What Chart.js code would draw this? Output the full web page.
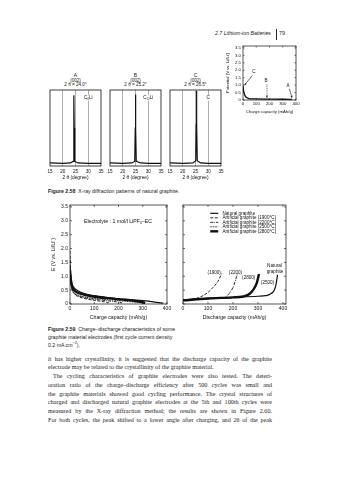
<!DOCTYPE html>
<html><head><meta charset="utf-8">
<script src="https://cdn.jsdelivr.net/npm/chart.js@4.4.1/dist/chart.umd.min.js"></script>
<style>
html,body{margin:0;padding:0;background:#fff;}
body{width:340px;height:480px;position:relative;overflow:hidden;color:#1a1a1a;font-family:'Liberation Sans',Arial,sans-serif;}
canvas{position:absolute;}
.t{position:absolute;white-space:nowrap;}
.hd{font-style:italic;font-size:5.2px;line-height:6px;}
.ph{position:absolute;text-align:center;width:50px;font-size:4.6px;line-height:5px;white-space:nowrap;}
.cap{font-size:5.2px;line-height:7.8px;left:48px;}
.bl{position:absolute;left:48px;width:224px;font-family:'Liberation Serif','Times New Roman',serif;font-size:6.1px;line-height:8.76px;text-align:justify;text-align-last:justify;white-space:normal;}
</style></head><body>
<div class="t hd" style="left:215px;top:29.5px">2.7 Lithium-ion Batteries</div>
<div style="position:absolute;left:276px;top:29px;width:0;height:11px;border-left:0.8px solid #222"></div>
<div class="t" style="left:279px;top:29.5px;font-size:5.4px;line-height:6px">79</div>

<div class="ph" style="left:50.5px;top:73px;font-size:5px">A</div>
<div class="ph" style="left:50.5px;top:77.7px">(002)</div>
<div class="ph" style="left:50.5px;top:81.7px">2 θ = 24.0°</div>
<div class="ph" style="left:110.5px;top:73px;font-size:5px">B</div>
<div class="ph" style="left:110.5px;top:77.7px">(002)</div>
<div class="ph" style="left:110.5px;top:81.7px">2 θ = 25.2°</div>
<div class="ph" style="left:170.5px;top:73px;font-size:5px">C</div>
<div class="ph" style="left:170.5px;top:77.7px">(002)</div>
<div class="ph" style="left:170.5px;top:81.7px">2 θ = 26.5°</div>

<div class="t cap" style="top:188px"><b>Figure 2.58</b>&nbsp;&nbsp;X-ray diffraction patterns of natural graphite.</div>
<div class="t cap" style="top:326px"><b>Figure 2.59</b>&nbsp;&nbsp;Charge–discharge characteristics of some<br>graphite material electrodes (first cycle current density<br>0.2 mA cm<sup style="font-size:3.8px;line-height:0">−2</sup>).</div>

<div class="bl" style="top:354.6px">it has higher crystallinity, it is suggested that the discharge capacity of the graphite</div>
<div class="bl" style="top:363.4px;text-align-last:left">electrode may be related to the crystallinity of the graphite material.</div>
<div class="bl" style="top:372.1px;text-indent:5px">The cycling characteristics of graphite electrodes were also tested. The deteri-</div>
<div class="bl" style="top:380.9px">oration ratio of the charge–discharge efficiency after 500 cycles was small and</div>
<div class="bl" style="top:389.6px">the graphite materials showed good cycling performance. The crystal structures of</div>
<div class="bl" style="top:398.4px">charged and discharged natural graphite electrodes at the 5th and 100th cycles were</div>
<div class="bl" style="top:407.2px">measured by the X-ray diffraction method; the results are shown in Figure 2.60.</div>
<div class="bl" style="top:415.9px">For both cycles, the peak shifted to a lower angle after charging, and 2θ of the peak</div>

<script>
// ================= DATA =================
// Top-right: potential profile of natural graphite during charge
const potCapacity  = [0, 2, 5, 10, 15, 20, 30, 45, 60, 100, 200, 300, 370];
const potPotential = [0.95, 0.8, 0.6, 0.42, 0.3, 0.22, 0.15, 0.1, 0.08, 0.07, 0.06, 0.05, 0.04];
const potYTicks = [0, 0.5, 1.0, 1.5, 2.0, 2.5, 3.0, 3.5];
const potXTicks = [0, 100, 200, 300, 400];

// XRD panels (2θ in degree, relative intensity)
const xrdAngleA = [15, 20, 23, 24.1, 24.3, 24.4, 24.5, 24.7, 26, 30, 35];
const xrdIntA   = [0.04, 0.035, 0.04, 0.06, 0.5, 0.93, 0.5, 0.06, 0.04, 0.035, 0.035];
const xrdAngleB = [15, 20, 23.5, 24.7, 24.9, 25.0, 25.1, 25.3, 27, 30, 35];
const xrdIntB   = [0.04, 0.035, 0.04, 0.06, 0.5, 0.94, 0.5, 0.06, 0.04, 0.035, 0.035];
const xrdAngleC = [15, 20, 24, 25.1, 25.3, 25.4, 25.5, 25.7, 27, 30, 35];
const xrdIntC   = [0.04, 0.035, 0.04, 0.07, 0.55, 0.99, 0.55, 0.07, 0.04, 0.035, 0.035];
const xrdTicks  = [15, 20, 25, 30, 35];

// Charge curves (capacity mAh/g, E V vs Li/Li+)
const chgNatX  = [0, 3, 8, 15, 25, 40, 70, 100, 150, 200, 250, 300, 350, 385];
const chgNatY  = [1.3, 0.95, 0.72, 0.6, 0.52, 0.44, 0.35, 0.3, 0.24, 0.19, 0.16, 0.12, 0.07, 0.03];
const chg1900X = [0, 2, 5, 10, 20, 40, 70, 110, 140, 160];
const chg1900Y = [1.9, 1.2, 0.75, 0.5, 0.35, 0.25, 0.18, 0.12, 0.08, 0.04];
const chg2200X = [0, 2, 6, 12, 25, 50, 100, 150, 190, 215];
const chg2200Y = [1.6, 1.05, 0.65, 0.45, 0.33, 0.25, 0.17, 0.12, 0.08, 0.04];
const chg2500X = [0, 4, 10, 20, 40, 70, 100, 150, 200, 250, 300];
const chg2500Y = [1.05, 0.7, 0.5, 0.38, 0.3, 0.24, 0.2, 0.16, 0.12, 0.08, 0.04];
const chg2800X = [0, 4, 10, 20, 40, 70, 100, 150, 200, 250, 290, 310];
const chg2800Y = [1.22, 0.85, 0.6, 0.47, 0.38, 0.31, 0.26, 0.21, 0.17, 0.13, 0.08, 0.04];

// Discharge curves
const disNatX  = [0, 100, 200, 300, 330, 350, 365, 372, 378];
const disNatY  = [0.15, 0.2, 0.24, 0.28, 0.3, 0.36, 0.5, 0.7, 1.05];
const dis1900X = [0, 20, 40, 60, 80, 100, 120, 140, 155];
const dis1900Y = [0.12, 0.15, 0.18, 0.22, 0.3, 0.42, 0.6, 0.82, 1.1];
const dis2200X = [0, 50, 100, 150, 170, 185, 200, 210, 217];
const dis2200Y = [0.12, 0.16, 0.19, 0.21, 0.25, 0.38, 0.6, 0.85, 1.08];
const dis2500X = [0, 100, 200, 250, 270, 285, 295, 300];
const dis2500Y = [0.12, 0.19, 0.23, 0.27, 0.35, 0.55, 0.8, 1.02];
const dis2800X = [0, 100, 200, 240, 260, 280, 295, 304];
const dis2800Y = [0.13, 0.2, 0.24, 0.27, 0.33, 0.5, 0.75, 1.08];

const eYTicks = [0, 0.5, 1.0, 1.5, 2.0, 2.5, 3.0, 3.5];
const capTicks = [0, 100, 200, 300, 400];
const seriesNames = ['Natural graphite', 'Artificial graphite (1900°C)', 'Artificial graphite (2200°C)', 'Artificial graphite (2500°C)', 'Artificial graphite (2800°C)'];

// ================= HELPERS =================
const FF = "'Liberation Sans', Arial, sans-serif";
const INK = '#111';
Chart.defaults.font.family = FF;
Chart.defaults.font.size = 5;
Chart.defaults.color = INK;
Chart.defaults.animation = false;
Chart.defaults.responsive = false;
Chart.defaults.devicePixelRatio = 1;
Chart.defaults.plugins.legend.display = false;
Chart.defaults.plugins.tooltip.enabled = false;
Chart.defaults.elements.point.radius = 0;

const pts = (xs, ys) => xs.map((x, i) => ({x, y: ys[i]}));
const fmt1 = v => (v === 0 ? '0' : Number(v).toFixed(1));

function place(area, pad) {
  const c = document.createElement('canvas');
  const w = area.r - area.l + pad.l + pad.r, h = area.b - area.t + pad.t + pad.b;
  c.width = w; c.height = h;
  c.style.left = (area.l - pad.l) + 'px'; c.style.top = (area.t - pad.t) + 'px';
  c.style.width = w + 'px'; c.style.height = h + 'px';
  document.body.appendChild(c);
  return c;
}
function makeChart(area, pad, cfg) {
  const c = place(area, pad);
  const o = cfg.options;
  const yShown = o.scales.y.display !== false;
  o.layout = {padding: {top: pad.t, right: pad.r, left: yShown ? 0 : pad.l, bottom: 0}};
  o.scales.x.afterFit = s => { s.height = pad.b; s.paddingLeft = 0; s.paddingRight = 0; };
  if (yShown) o.scales.y.afterFit = s => { s.width = pad.l; s.paddingTop = 0; s.paddingBottom = 0; };
  return new Chart(c, cfg);
}
function ticksFrom(list) {
  return s => { s.ticks = list.map(v => ({value: v})); };
}

const framePlugin = {
  id: 'frame',
  afterDatasetsDraw(chart, args, opts) {
    const {ctx, chartArea: a} = chart;
    ctx.save();
    ctx.strokeStyle = INK; ctx.lineWidth = opts.lw || 0.7;
    ctx.strokeRect(a.left, a.top, a.right - a.left, a.bottom - a.top);
    const len = opts.len || 1.8;
    ctx.lineWidth = 0.6;
    const L = (x1, y1, x2, y2) => { ctx.beginPath(); ctx.moveTo(x1, y1); ctx.lineTo(x2, y2); ctx.stroke(); };
    if (opts.xTicks) {
      const s = chart.scales.x;
      s.ticks.forEach(t => { const p = s.getPixelForValue(t.value); L(p, a.bottom, p, a.bottom - len); if (opts.mirror) L(p, a.top, p, a.top + len); });
    }
    if (opts.yTicks) {
      const s = chart.scales.y;
      s.ticks.forEach(t => { const p = s.getPixelForValue(t.value); L(a.left, p, a.left + len, p); if (opts.mirror) L(a.right, p, a.right - len, p); });
    }
    ctx.restore();
  }
};

function arrow(ctx, x1, y1, x2, y2, dash, h) {
  ctx.setLineDash(dash || []);
  ctx.beginPath(); ctx.moveTo(x1, y1); ctx.lineTo(x2, y2); ctx.stroke();
  ctx.setLineDash([]);
  const a = Math.atan2(y2 - y1, x2 - x1); h = h || 2.2;
  ctx.beginPath(); ctx.moveTo(x2, y2);
  ctx.lineTo(x2 - h * Math.cos(a - 0.45), y2 - h * Math.sin(a - 0.45));
  ctx.lineTo(x2 - h * Math.cos(a + 0.45), y2 - h * Math.sin(a + 0.45));
  ctx.closePath(); ctx.fill();
}

const notesPlugin = {
  id: 'notes',
  afterDraw(chart, args, opts) {
    const items = opts.items || [];
    if (!items.length) return;
    const {ctx} = chart, xs = chart.scales.x, ys = chart.scales.y;
    const X = v => xs.getPixelForValue(v), Y = v => ys.getPixelForValue(v);
    ctx.save();
    ctx.fillStyle = INK; ctx.strokeStyle = INK; ctx.lineWidth = 0.6;
    items.forEach(it => {
      if (it.type === 'text') {
        ctx.font = (it.size || 5) + 'px ' + FF;
        ctx.textAlign = it.align || 'center'; ctx.textBaseline = 'middle';
        const x = X(it.x), y = Y(it.y);
        if (it.bg) {
          const w = ctx.measureText(it.text).width;
          ctx.fillStyle = '#fff'; ctx.fillRect(x - w / 2 - 0.5, y - it.size * 0.6, w + 1, it.size * 1.2);
          ctx.fillStyle = INK;
        }
        ctx.fillText(it.text, x, y);
      } else if (it.type === 'arrow') {
        arrow(ctx, X(it.x1), Y(it.y1), X(it.x2), Y(it.y2), it.dash, it.head);
      } else if (it.type === 'legend') {
        ctx.font = (it.size || 4.6) + 'px ' + FF;
        ctx.textAlign = 'left'; ctx.textBaseline = 'middle';
        chart.data.datasets.forEach((d, i) => {
          const y = Y(it.y0) + i * it.dy;
          ctx.save();
          ctx.lineWidth = d.borderWidth; ctx.setLineDash(d.borderDash || []);
          ctx.beginPath(); ctx.moveTo(X(it.x1), y); ctx.lineTo(X(it.x2), y); ctx.stroke();
          ctx.restore();
          ctx.fillText(d.label, X(it.xt), y);
        });
      }
    });
    ctx.restore();
  }
};
Chart.register(framePlugin, notesPlugin);

// ================= TOP-RIGHT: potential profile =================
makeChart({l: 243, t: 46, r: 296, b: 100}, {l: 19, t: 2, r: 6, b: 15}, {
  type: 'line',
  data: {datasets: [{data: pts(potCapacity, potPotential), borderColor: INK, borderWidth: 1.3, cubicInterpolationMode: 'monotone'}]},
  options: {
    scales: {
      x: {type: 'linear', min: 0, max: 400, afterBuildTicks: ticksFrom(potXTicks),
          grid: {display: false, drawTicks: false}, border: {display: false},
          ticks: {font: {size: 4.3}, padding: 1.5, maxRotation: 0, autoSkip: false},
          title: {display: true, text: 'Charge capacity (mAh/g)', font: {size: 4.3}, padding: {top: 0, bottom: 0.5}}},
      y: {min: 0, max: 3.63, afterBuildTicks: ticksFrom(potYTicks),
          grid: {display: false, drawTicks: false}, border: {display: false},
          ticks: {font: {size: 4.3}, padding: 2, callback: fmt1, autoSkip: false},
          title: {display: true, text: 'Potential (V vs. Li/Li⁺)', font: {size: 4.3}, padding: {top: 1.2, bottom: 0}}}
    },
    plugins: {
      frame: {xTicks: true, yTicks: true, mirror: true, len: 1.5},
      notes: {items: [
        {type: 'text', x: 83, y: 1.9, text: 'C', size: 4.5},
        {type: 'arrow', x1: 70, y1: 1.65, x2: 12, y2: 1.0},
        {type: 'text', x: 174, y: 1.3, text: 'B', size: 4.5},
        {type: 'arrow', x1: 181, y1: 1.05, x2: 181, y2: 0.15, dash: [1, 0.8]},
        {type: 'text', x: 340, y: 0.95, text: 'A', size: 4.5},
        {type: 'arrow', x1: 350, y1: 0.75, x2: 370, y2: 0.15}
      ]}
    }
  }
});

// ================= XRD panels =================
function xrdPanel(area, xs, ys, mark) {
  return makeChart(area, {l: 4, t: 2, r: 5, b: 16}, {
    type: 'line',
    data: {datasets: [{data: pts(xs, ys), borderColor: INK, borderWidth: 1.2, tension: 0}]},
    options: {
      scales: {
        x: {type: 'linear', min: 15, max: 35, afterBuildTicks: ticksFrom(xrdTicks),
            grid: {display: true, drawTicks: false, lineWidth: 0.8, color: c => (c.tick && (c.tick.value === 15 || c.tick.value === 35)) ? 'rgba(0,0,0,0)' : '#9a9a9a'},
            border: {display: false},
            ticks: {font: {size: 4.6}, padding: 2.5, maxRotation: 0, autoSkip: false},
            title: {display: true, text: '2 θ (degree)', font: {size: 4.8}, padding: {top: 0, bottom: 1.1}}},
        y: {display: false, min: 0, max: 1}
      },
      plugins: {
        frame: {lw: 0.8},
        notes: {items: [{type: 'text', x: 30, y: 0.895, text: mark, size: 4.6, bg: true}]}
      }
    }
  });
}
xrdPanel({l: 50, t: 90, r: 101, b: 166}, xrdAngleA, xrdIntA, 'C₆Li');
xrdPanel({l: 110, t: 90, r: 161, b: 166}, xrdAngleB, xrdIntB, 'C₁₂Li');
xrdPanel({l: 170, t: 90, r: 221, b: 166}, xrdAngleC, xrdIntC, 'C');

// ================= Charge / discharge =================
const styles = [
  {borderWidth: 1.2, borderDash: []},
  {borderWidth: 0.9, borderDash: [3, 1.5]},
  {borderWidth: 0.9, borderDash: [3, 1, 0.8, 1]},
  {borderWidth: 0.9, borderDash: [1.5, 1]},
  {borderWidth: 2.4, borderDash: []}
];
function ds(i, xs, ys) {
  return Object.assign({label: seriesNames[i], data: pts(xs, ys), borderColor: INK, cubicInterpolationMode: 'monotone', borderCapStyle: 'butt'}, styles[i]);
}
const capAxis = (max, title) => ({
  type: 'linear', min: 0, max: max, afterBuildTicks: ticksFrom(capTicks),
  grid: {display: false, drawTicks: false}, border: {display: false},
  ticks: {font: {size: 5}, padding: 1.5, maxRotation: 0, autoSkip: false},
  title: {display: true, text: title, font: {size: 5.2}, padding: {top: 0, bottom: 1}}
});

makeChart({l: 70, t: 205, r: 167, b: 304}, {l: 22, t: 2, r: 6, b: 18}, {
  type: 'line',
  data: {datasets: [
    ds(0, chgNatX, chgNatY), ds(1, chg1900X, chg1900Y), ds(2, chg2200X, chg2200Y),
    ds(3, chg2500X, chg2500Y), ds(4, chg2800X, chg2800Y)
  ]},
  options: {
    scales: {
      x: capAxis(400, 'Charge capacity (mAh/g)'),
      y: {min: 0, max: 3.57, afterBuildTicks: ticksFrom(eYTicks),
          grid: {display: false, drawTicks: false}, border: {display: false},
          ticks: {font: {size: 5}, padding: 2, callback: fmt1, autoSkip: false},
          title: {display: true, text: 'E (V vs. Li/Li⁺)', font: {size: 5.2}, padding: {top: 2.5, bottom: 0}}}
    },
    plugins: {
      frame: {xTicks: true, yTicks: true, mirror: true, len: 2},
      notes: {items: [{type: 'text', x: 198, y: 2.97, text: 'Electrolyte : 1 mol/l LiPF₆–EC', size: 5.2}]}
    }
  }
});

makeChart({l: 183, t: 205, r: 286, b: 304}, {l: 4, t: 2, r: 6, b: 18}, {
  type: 'line',
  data: {datasets: [
    ds(0, disNatX, disNatY), ds(1, dis1900X, dis1900Y), ds(2, dis2200X, dis2200Y),
    ds(3, dis2500X, dis2500Y), ds(4, dis2800X, dis2800Y)
  ]},
  options: {
    scales: {
      x: capAxis(412, 'Discharge capacity (mAh/g)'),
      y: {min: 0, max: 3.57, afterBuildTicks: ticksFrom(eYTicks),
          grid: {display: false, drawTicks: false}, border: {display: false},
          ticks: {display: false}}
    },
    plugins: {
      frame: {xTicks: true, yTicks: true, mirror: true, len: 2},
      notes: {items: [
        {type: 'legend', x1: 109, x2: 141, xt: 158, y0: 3.27, dy: 4.5, size: 4.6},
        {type: 'text', x: 125, y: 1.14, text: '(1900)', size: 4.6},
        {type: 'text', x: 210, y: 1.12, text: '(2200)', size: 4.6},
        {type: 'text', x: 263, y: 0.93, text: '(2800)', size: 4.6},
        {type: 'text', x: 338, y: 0.78, text: '(2500)', size: 4.6},
        {type: 'text', x: 366, y: 1.39, text: 'Natural', size: 4.6},
        {type: 'text', x: 368, y: 1.16, text: 'graphite', size: 4.6}
      ]}
    }
  }
});
</script>
</body></html>
